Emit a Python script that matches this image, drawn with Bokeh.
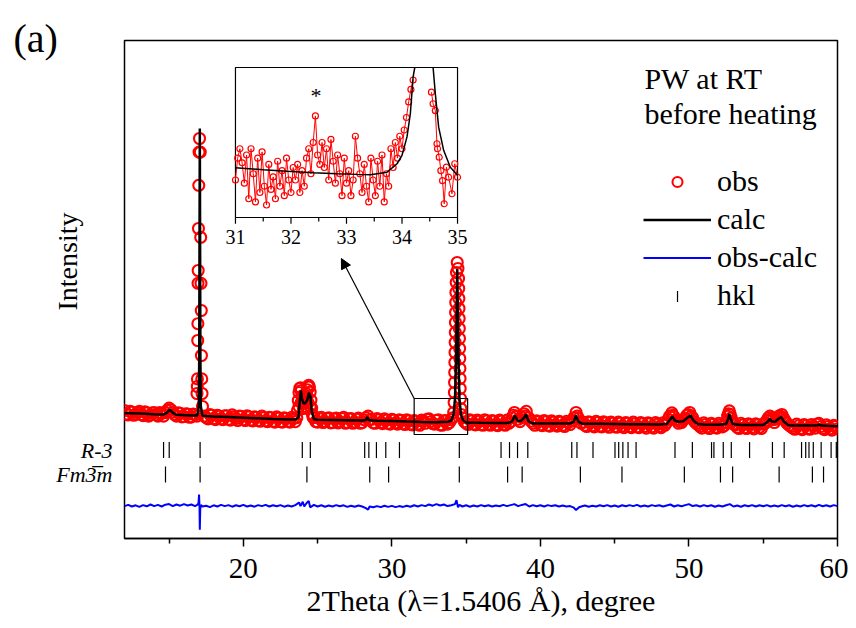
import math
from bokeh.plotting import figure
from bokeh.models import Range1d, FixedTicker, Label, Legend, LegendItem, Arrow, NormalHead
from bokeh.core.properties import value
from bokeh.embed import file_html
from bokeh.resources import INLINE

FONT = "Liberation Serif"
NAN = float("nan")

# ---------------- data ----------------
x_ticks = [20, 30, 40, 50, 60]
x_minor = [15, 25, 35, 45, 55]

# observed pattern (main panel)
obs_x = [12.0, 12.25, 12.5, 12.75, 13.0, 13.25, 13.5, 13.75, 14.0, 14.25, 14.5, 14.75, 15.0, 15.25, 15.5, 15.75, 16.0, 16.25, 16.5, 16.75,
         16.88, 16.9, 16.91, 16.93, 16.94, 16.95, 16.96, 16.98, 17.0, 17.02, 17.05, 17.1, 17.13, 17.15, 17.17, 17.18, 17.2, 17.22, 17.25,
         17.5, 17.75, 18.0, 18.25, 18.5, 18.75, 19.0, 19.25, 19.5, 19.75, 20.0, 20.25, 20.5, 20.75, 21.0, 21.25, 21.5, 21.75, 22.0, 22.25,
         22.5, 22.75, 23.0, 23.25, 23.5,
         23.6, 23.65, 23.7, 23.75, 23.8, 23.85, 23.9, 23.95, 24.0, 24.05, 24.1, 24.15, 24.2, 24.25, 24.3, 24.35, 24.4, 24.45, 24.5, 24.55,
         24.6, 24.65, 24.7, 23.75, 23.9, 24.05, 24.2, 24.35, 24.5,
         24.75, 25.0, 25.25, 25.5, 25.75, 26.0, 26.25, 26.5, 26.75, 27.0, 27.25, 27.5, 27.75, 28.0, 28.25, 28.4, 28.5, 28.75, 29.0, 29.25,
         29.5, 29.75, 30.0, 30.25, 30.5, 30.75, 31.0, 31.25, 31.5, 31.75, 32.0, 32.25, 32.5, 32.75, 33.0, 33.25, 33.5, 33.75, 34.0, 34.1,
         34.16, 34.19, 34.21, 34.22, 34.23, 34.24, 34.25, 34.26, 34.27, 34.28, 34.29, 34.3, 34.31, 34.33, 34.35, 34.4,
         34.45, 34.49, 34.5, 34.51, 34.52, 34.53, 34.54, 34.55, 34.56, 34.57, 34.58, 34.59, 34.6, 34.62, 34.64, 34.66,
         34.75, 35.0, 35.25, 35.5, 35.75, 36.0, 36.25, 36.5, 36.75, 37.0, 37.25, 37.5, 37.75, 38.0, 38.1, 38.25, 38.4, 38.5, 38.75, 38.9,
         39.05, 39.2, 39.5, 39.75, 40.0, 40.25, 40.5, 40.75, 41.0, 41.25, 41.5, 41.75, 42.0, 42.25, 42.4, 42.55, 42.75, 43.0, 43.25, 43.5,
         43.75, 44.0, 44.25, 44.5, 44.75, 45.0, 45.25, 45.5, 45.75, 46.0, 46.25, 46.5, 46.75, 47.0, 47.25, 47.5, 47.75, 48.0, 48.25, 48.5,
         48.7, 48.85, 49.0, 49.2, 49.4, 49.6, 49.85, 50.05, 50.25, 50.5, 50.75, 51.0, 51.25, 51.5, 51.75, 52.0, 52.25, 52.5, 52.6, 52.72,
         52.85, 53.0, 53.25, 53.5, 53.75, 54.0, 54.25, 54.5, 54.75, 55.0, 55.25, 55.45, 55.65, 55.85, 56.05, 56.25, 56.45, 56.75, 57.0,
         57.25, 57.5, 57.75, 58.0, 58.25, 58.5, 58.75, 59.0, 59.25, 59.5, 59.75, 60.0]
obs_y = [700, 590, 660, 610, 680, 570, 640, 590, 650, 560, 630, 650, 760, 660, 560, 630, 550, 610, 540, 600,
         1125, 1300, 1490, 2450, 2870, 3880, 4200, 5250, 6330, 7160, 7500, 7160, 5030, 3880, 3200, 2075, 1490, 1125, 800,
         520, 600, 500, 580, 490, 570, 480, 590, 500, 560, 470, 570, 460, 540, 450, 560, 440, 530, 430, 540,
         420, 520, 430, 530, 420,
         520, 700, 950, 1150, 1250, 1270, 1200, 1060, 960, 920, 930, 960, 1020, 1120, 1220, 1300, 1330, 1290, 1160, 960,
         760, 600, 520, 800, 900, 750, 800, 900, 800,
         560, 410, 530, 420, 520, 400, 510, 420, 530, 400, 500, 410, 510, 400, 520, 560, 470, 390, 500, 400,
         490, 380, 480, 390, 470, 370, 470, 360, 450, 360, 460, 380, 490, 370, 450, 340, 440, 360, 470, 520,
         650, 900, 1150, 1400, 1650, 1900, 2150, 2400, 2650, 2900, 3150, 3400, 3650, 3900, 4150, 4400,
         4250, 4000, 3750, 3500, 3250, 3000, 2750, 2500, 2250, 2000, 1750, 1500, 1250, 1000, 750, 600,
         520, 380, 470, 360, 460, 350, 470, 360, 450, 340, 460, 350, 460, 420, 520, 650, 560, 480, 520, 620,
         680, 520, 380, 440, 340, 450, 330, 440, 340, 430, 330, 430, 350, 520, 650, 500, 380, 330, 420, 320,
         430, 310, 420, 320, 410, 300, 410, 310, 400, 300, 410, 290, 400, 300, 390, 290, 400, 300, 390, 400,
         560, 640, 540, 460, 420, 470, 580, 650, 520, 380, 300, 390, 290, 380, 280, 380, 290, 400, 560, 690,
         520, 360, 280, 380, 270, 370, 280, 370, 280, 360, 460, 560, 470, 480, 560, 600, 460, 330, 260,
         360, 250, 350, 250, 350, 260, 380, 250, 340, 240, 330, 240]

# second interleaved set of observed points (between the ones above)
obs2_x = [12.125, 12.375, 12.625, 12.875, 13.125, 13.375, 13.625, 13.875, 14.125, 14.375, 14.625, 14.875, 15.125, 15.375,
          15.625, 15.875, 16.125, 16.375, 16.625, 16.875, 17.375, 17.625, 17.875, 18.125, 18.375, 18.625, 18.875, 19.125,
          19.375, 19.625, 19.875, 20.125, 20.375, 20.625, 20.875, 21.125, 21.375, 21.625, 21.875, 22.125, 22.375, 22.625,
          22.875, 23.125, 23.375, 24.875, 25.125, 25.375, 25.625, 25.875, 26.125, 26.375, 26.625, 26.875, 27.125, 27.375,
          27.625, 27.875, 28.125, 28.625, 28.875, 29.125, 29.375, 29.625, 29.875, 30.125, 30.375, 30.625, 30.875, 31.125,
          31.375, 31.625, 31.875, 32.125, 32.375, 32.625, 32.875, 33.125, 33.375, 33.625, 33.875, 34.875, 35.125, 35.375,
          35.625, 35.875, 36.125, 36.375, 36.625, 36.875, 37.125, 37.375, 37.625, 37.875, 38.175, 38.625, 38.975, 39.375,
          39.625, 39.875, 40.125, 40.375, 40.625, 40.875, 41.125, 41.375, 41.625, 41.875, 42.125, 42.475, 42.875, 43.125,
          43.375, 43.625, 43.875, 44.125, 44.375, 44.625, 44.875, 45.125, 45.375, 45.625, 45.875, 46.125, 46.375, 46.625,
          46.875, 47.125, 47.375, 47.625, 47.875, 48.125, 48.375, 48.6, 48.925, 49.1, 49.3, 49.5, 49.75, 49.95, 50.15,
          50.375, 50.625, 50.875, 51.125, 51.375, 51.625, 51.875, 52.125, 52.375, 52.66, 52.775, 52.925, 53.125, 53.375,
          53.625, 53.875, 54.125, 54.375, 54.625, 54.875, 55.125, 55.35, 55.55, 55.75, 55.95, 56.15, 56.35, 56.6, 56.875,
          57.125, 57.375, 57.625, 57.875, 58.125, 58.375, 58.625, 58.875, 59.125, 59.375, 59.625, 59.875]
obs2_y = [610, 680, 580, 650, 600, 670, 560, 640, 590, 650, 560, 700, 720, 600,
          640, 540, 620, 530, 610, 560, 560, 490, 580, 470, 560, 470, 570, 460,
          540, 450, 550, 450, 540, 440, 530, 430, 520, 420, 520, 410, 510, 410,
          500, 410, 500, 420, 500, 400, 500, 390, 490, 390, 500, 380, 490, 380,
          480, 380, 470, 480, 380, 470, 370, 460, 360, 460, 360, 450, 350, 440,
          340, 430, 330, 440, 480, 420, 360, 470, 330, 450, 400, 420, 350, 440,
          340, 430, 330, 440, 330, 430, 320, 430, 330, 380, 580, 420, 560, 430,
          330, 420, 320, 420, 310, 410, 310, 410, 300, 400, 440, 560, 410, 300,
          400, 290, 400, 290, 390, 280, 380, 280, 380, 270, 380, 270, 370, 270,
          370, 260, 370, 260, 360, 270, 330, 480, 580, 470, 380, 400, 500, 600, 560,
          420, 340, 260, 350, 250, 350, 260, 340, 320, 620, 600, 420, 340, 250,
          340, 250, 340, 240, 340, 250, 380, 520, 500, 400, 520, 560, 520, 380, 300,
          230, 320, 220, 320, 230, 310, 360, 300, 220, 300, 210, 300]

# calculated profile
calc_x = [12.0, 13.0, 14.0, 14.6, 14.85, 15.05, 15.25, 15.5, 16.5, 16.9, 17.0, 17.03, 17.05, 17.07, 17.09, 17.11, 17.14, 17.25,
          18.0, 19.0, 20.0, 21.0, 22.0, 23.0, 23.5, 23.7, 23.8, 23.87, 23.95, 24.05, 24.15, 24.3, 24.42, 24.52, 24.6, 24.75,
          25.0, 26.0, 27.0, 28.0, 28.25, 28.35, 28.45, 28.7, 29.0, 30.0, 31.0, 32.0, 33.0, 33.8, 34.0, 34.15, 34.25, 34.32,
          34.37, 34.4, 34.43, 34.48, 34.55, 34.65, 34.8, 35.0, 36.0, 37.0, 37.8, 38.1, 38.28, 38.45, 38.7, 38.9, 39.04, 39.2,
          39.5, 40.0, 41.0, 42.0, 42.25, 42.4, 42.55, 42.8, 44.0, 45.0, 46.0, 47.0, 48.0, 48.5, 48.75, 48.88, 49.05, 49.3,
          49.6, 49.9, 50.1, 50.3, 50.6, 51.0, 52.0, 52.5, 52.65, 52.72, 52.8, 52.95, 53.5, 54.0, 55.0, 55.3, 55.45, 55.6,
          55.8, 56.05, 56.2, 56.4, 56.7, 57.0, 58.0, 58.6, 58.75, 58.9, 59.5, 60.0]
calc_y = [640, 625, 605, 598, 640, 725, 640, 592, 572, 575, 800, 2000, 5000, 7750, 5000, 2000, 800, 570,
          548, 535, 520, 505, 490, 478, 475, 520, 900, 1200, 1000, 880, 875, 960, 1140, 1050, 700, 480,
          467, 462, 457, 452, 460, 533, 460, 450, 445, 438, 425, 415, 408, 420, 450, 600, 1000, 2000,
          3500, 4240, 3500, 2000, 1000, 600, 450, 400, 392, 388, 385, 430, 575, 450, 440, 520, 600, 430,
          378, 376, 372, 372, 420, 575, 420, 370, 366, 362, 358, 355, 352, 365, 480, 550, 450, 420,
          430, 520, 575, 450, 360, 350, 345, 360, 500, 617, 500, 360, 340, 338, 338, 420, 490, 420,
          420, 500, 533, 420, 330, 325, 322, 322, 345, 322, 315, 305]

# difference curve (offset below the pattern)
diff_x = [12.0, 12.25, 12.5, 12.75, 13.0, 13.25, 13.5, 13.75, 14.0, 14.25, 14.5, 14.75, 15.0, 15.25, 15.5, 15.75, 16.0, 16.25,
          16.5, 16.75, 16.9, 16.98, 17.02, 17.05, 17.07, 17.1, 17.15, 17.25, 17.5, 17.75, 18.0, 18.25, 18.5, 18.75, 19.0, 19.25,
          19.5, 19.75, 20.0, 20.25, 20.5, 20.75, 21.0, 21.25, 21.5, 21.75, 22.0, 22.25, 22.5, 22.75, 23.0, 23.25, 23.5, 23.75,
          23.85, 24.0, 24.1, 24.25, 24.4, 24.5, 24.75, 25.0, 25.25, 25.5, 25.75, 26.0, 26.25, 26.5, 26.75, 27.0, 27.25, 27.5,
          27.75, 28.0, 28.25, 28.4, 28.5, 28.75, 29.0, 29.25, 29.5, 29.75, 30.0, 30.25, 30.5, 30.75, 31.0, 31.25, 31.5, 31.75,
          32.0, 32.25, 32.5, 32.75, 33.0, 33.25, 33.5, 33.75, 34.0, 34.25, 34.35, 34.45, 34.55, 34.75, 35.0, 35.25, 35.5, 35.75,
          36.0, 36.25, 36.5, 36.75, 37.0, 37.25, 37.5, 37.75, 38.0, 38.25, 38.5, 38.75, 39.0, 39.25, 39.5, 39.75, 40.0, 40.25,
          40.5, 40.75, 41.0, 41.25, 41.5, 41.75, 42.0, 42.25, 42.4, 42.6, 42.75, 43.0, 43.25, 43.5, 43.75, 44.0, 44.25, 44.5,
          44.75, 45.0, 45.25, 45.5, 45.75, 46.0, 46.25, 46.5, 46.75, 47.0, 47.25, 47.5, 47.75, 48.0, 48.25, 48.5, 48.75, 49.0,
          49.25, 49.5, 49.75, 50.0, 50.25, 50.5, 50.75, 51.0, 51.25, 51.5, 51.75, 52.0, 52.25, 52.5, 52.75, 53.0, 53.25, 53.5,
          53.75, 54.0, 54.25, 54.5, 54.75, 55.0, 55.25, 55.5, 55.75, 56.0, 56.25, 56.5, 56.75, 57.0, 57.25, 57.5, 57.75, 58.0,
          58.25, 58.5, 58.75, 59.0, 59.25, 59.5, 59.75, 60.0]
diff_y = [-1690, -1660, -1700, -1670, -1710, -1665, -1695, -1650, -1690, -1660, -1700, -1655, -1640, -1690, -1650, -1680, -1640, -1675,
          -1650, -1690, -1660, -1620, -1400, -1720, -2280, -1760, -1660, -1700, -1680, -1715, -1670, -1700, -1660, -1690, -1665, -1705,
          -1670, -1695, -1660, -1700, -1675, -1705, -1665, -1690, -1660, -1700, -1670, -1695, -1665, -1705, -1675, -1700, -1665, -1600,
          -1690, -1580, -1700, -1620, -1560, -1720, -1660, -1700, -1670, -1705, -1675, -1700, -1665, -1695, -1670, -1710, -1680, -1705,
          -1675, -1700, -1740, -1780, -1700, -1720, -1690, -1715, -1680, -1710, -1685, -1715, -1690, -1710, -1680, -1705, -1670, -1700,
          -1665, -1690, -1650, -1680, -1640, -1675, -1650, -1690, -1670, -1640, -1540, -1720, -1660, -1700, -1670, -1705, -1675, -1700,
          -1665, -1695, -1670, -1700, -1675, -1695, -1660, -1690, -1665, -1640, -1690, -1660, -1640, -1700, -1665, -1695, -1670, -1700,
          -1665, -1690, -1670, -1700, -1675, -1700, -1690, -1730, -1790, -1720, -1700, -1675, -1705, -1680, -1700, -1670, -1695, -1665,
          -1700, -1675, -1705, -1670, -1695, -1665, -1690, -1660, -1700, -1675, -1700, -1665, -1690, -1670, -1700, -1675, -1650, -1700,
          -1670, -1695, -1665, -1640, -1690, -1670, -1700, -1665, -1695, -1670, -1705, -1675, -1700, -1670, -1640, -1700, -1675, -1705,
          -1670, -1695, -1665, -1700, -1670, -1695, -1665, -1700, -1675, -1700, -1665, -1695, -1670, -1705, -1675, -1700, -1665, -1695,
          -1670, -1700, -1660, -1695, -1670, -1700, -1665, -1690]

# Bragg reflection positions
hkl_r3 = [14.63, 15.01, 17.09, 23.97, 24.51, 28.17, 28.45, 28.96, 29.59, 30.51, 34.54, 37.35, 37.92, 38.46, 39.15, 42.11, 42.46,
          43.54, 45.02, 45.27, 45.55, 45.90, 46.44, 49.06, 50.23, 51.52, 51.68, 52.31, 52.85, 54.08, 55.62, 56.41, 57.58, 57.86,
          58.08, 58.37, 58.90, 59.57, 59.92]
hkl_fm3m = [14.76, 17.09, 24.28, 28.51, 29.78, 34.54, 37.79, 38.77, 42.69, 45.49, 49.69, 52.12, 52.94, 56.07, 58.31, 59.06]
R3_LEVEL = -290
FM_LEVEL = -900
phase_labels = {R3_LEVEL: "R-3", FM_LEVEL: "Fm3\u0305m"}

# inset (zoom of 31-35 degrees)
ins_obs_x = [31.00, 31.04, 31.08, 31.12, 31.16, 31.20, 31.24, 31.28, 31.32, 31.36, 31.40, 31.44, 31.48, 31.52, 31.56, 31.60,
             31.64, 31.68, 31.72, 31.76, 31.80, 31.84, 31.88, 31.92, 31.96, 32.00, 32.04, 32.08, 32.12, 32.16, 32.20, 32.24,
             32.28, 32.32, 32.36, 32.40, 32.44, 32.48, 32.52, 32.56, 32.60, 32.64, 32.68, 32.72, 32.76, 32.80, 32.84, 32.88,
             32.92, 32.96, 33.00, 33.04, 33.08, 33.12, 33.16, 33.20, 33.24, 33.28, 33.32, 33.36, 33.40, 33.44, 33.48, 33.52,
             33.56, 33.60, 33.64, 33.68, 33.72, 33.76, 33.80, 33.84, 33.88, 33.92, 33.96, 34.00, 34.04, 34.08, 34.12, 34.16,
             34.20, NAN, 34.53, 34.56, 34.60, 34.63, 34.64, 34.67, 34.70, 34.73, 34.76, 34.80, 34.84, 34.90, 34.95, 35.00]
ins_obs_y = [400, 470, 500, 455, 390, 480, 340, 500, 420, 330, 470, 360, 490, 380, 320, 450,
             370, 410, 340, 460, 380, 430, 350, 470, 400, 360, 440, 400, 450, 360, 430, 380,
             470, 500, 420, 520, 605, 480, 450, 520, 440, 500, 400, 530, 460, 390, 480, 420,
             350, 470, 390, 430, 350, 400, 540, 470, 420, 360, 450, 380, 330, 470, 400, 350,
             460, 380, 480, 330, 420, 380, 500, 440, 520, 470, 540, 500, 560, 600, 650, 690,
             720, NAN, 681, 644, 622, 516, 500, 473, 430, 398, 324, 441, 409, 356, 452, 409]
ins_calc_x = [31.0, 31.5, 31.93, 32.4, 32.83, 33.2, 33.43, 33.73, 33.91, 34.0, 34.09, 34.15, 34.2, 34.23, NAN,
              34.56, 34.6, 34.66, 34.75, 34.87, 35.0]
ins_calc_y = [439, 433, 428, 423, 420, 418, 417, 425, 452, 479, 538, 612, 730, 760, NAN,
              760, 676, 569, 495, 441, 415]
ins_ticks = [31, 32, 33, 34, 35]
ins_minor = [31.5, 32.5, 33.5, 34.5]
INS_X = (31, 35)
INS_Y = (280, 760)

# legend key position for the hkl entry (legend layout, not data)
HKL_KEY = (49.23, 3550)

# ---------------- figure ----------------
p = figure(width=848, height=627, output_backend="svg", toolbar_location=None,
           x_range=Range1d(12, 60), y_range=Range1d(-2500, 9950),
           min_border_left=124, min_border_right=11, min_border_top=40, min_border_bottom=89)
p.background_fill_color = "white"
p.border_fill_color = "white"
p.outline_line_color = "black"
p.outline_line_width = 1.5
p.xgrid.visible = False
p.ygrid.visible = False

# panel tag "(a)"
p.title.text = "(a)"
p.title.text_font = FONT
p.title.text_font_size = "40px"
p.title.text_font_style = "normal"
p.title.text_color = "black"
p.title.align = "left"
p.title.offset = -111
p.title.standoff = -40
p.title.text_line_height = 1.5

ax = p.xaxis[0]
ax.ticker = FixedTicker(ticks=x_ticks, minor_ticks=x_minor)
ax.axis_line_color = "black"
ax.axis_line_width = 1.5
ax.major_tick_in = 0
ax.major_tick_out = 8
ax.minor_tick_in = 0
ax.minor_tick_out = 5
ax.major_tick_line_color = "black"
ax.major_tick_line_width = 1.5
ax.minor_tick_line_color = "black"
ax.minor_tick_line_width = 1.5
ax.major_label_text_font = FONT
ax.major_label_text_font_size = "29px"
ax.major_label_text_color = "black"
ax.major_label_standoff = 12
ax.axis_label = "2Theta (\u03bb=1.5406 \u00c5), degree"
ax.axis_label_text_font = FONT
ax.axis_label_text_font_size = "30px"
ax.axis_label_text_font_style = "normal"
ax.axis_label_text_color = "black"
ax.axis_label_standoff = 3

ay = p.yaxis[0]
ay.ticker = FixedTicker(ticks=[FM_LEVEL, R3_LEVEL], minor_ticks=[])
ay.major_label_overrides = phase_labels
ay.axis_line_color = None
ay.major_tick_in = 0
ay.major_tick_out = 0
ay.minor_tick_in = 0
ay.minor_tick_out = 0
ay.major_label_text_font = FONT
ay.major_label_text_font_size = "22px"
ay.major_label_text_font_style = "italic"
ay.major_label_text_color = "black"
ay.major_label_standoff = 12
ay.axis_label = "\u00a0" * 8 + "Intensity"
ay.axis_label_text_font = FONT
ay.axis_label_text_font_size = "28px"
ay.axis_label_text_font_style = "normal"
ay.axis_label_text_color = "black"
ay.axis_label_standoff = -30

# main pattern
r_obs = p.scatter(obs_x + obs2_x, obs_y + obs2_y, marker="circle", size=11, fill_color=None,
                  line_color="#ff0000", line_width=2.1)
r_calc = p.line(calc_x, calc_y, line_color="black", line_width=2.5)
r_diff = p.line(diff_x, diff_y, line_color="#0000ff", line_width=2)
p.scatter(hkl_r3, [R3_LEVEL] * len(hkl_r3), marker="dash", angle=math.pi / 2, size=16,
          line_color="black", line_width=1.2)
p.scatter(hkl_fm3m, [FM_LEVEL] * len(hkl_fm3m), marker="dash", angle=math.pi / 2, size=16,
          line_color="black", line_width=1.2)
r_hkl_key = p.scatter([NAN], [NAN], marker="dash", size=1, line_alpha=0, fill_alpha=0)
# vertical hkl key drawn in the legend row (Bokeh's legend draws dashes horizontally)
p.scatter([HKL_KEY[0]], [HKL_KEY[1]], marker="dash", angle=math.pi / 2, size=11,
          line_color="black", line_width=1.2)

# zoom box and arrow
p.quad(left=[31.5], right=[35.1], bottom=[100], top=[1000], fill_color=None, line_color="black", line_width=1.2)
p.add_layout(Arrow(x_start=31.5, y_start=1000, x_end=26.6, y_end=4500, line_width=1.2, line_color="black",
                   end=NormalHead(size=10, fill_color="black", line_color="black")))

# inset
ins = p.subplot(x_source=Range1d(*INS_X), y_source=Range1d(*INS_Y),
                x_target=Range1d(19.47, 34.42), y_target=Range1d(5525, 9275))
ins.quad(left=[INS_X[0]], right=[INS_X[1]], bottom=[INS_Y[0]], top=[INS_Y[1]],
         fill_color="white", line_color="black", line_width=1.2)
ins.line(ins_obs_x, ins_obs_y, line_color="#ff0000", line_width=1)
ins.scatter(ins_obs_x, ins_obs_y, marker="circle", size=6, fill_color=None, line_color="#ff0000", line_width=1.2)
ins.line(ins_calc_x, ins_calc_y, line_color="black", line_width=1.5)
ins.segment(x0=ins_ticks, x1=ins_ticks, y0=[INS_Y[0]] * 5, y1=[INS_Y[0] - 20] * 5, line_color="black", line_width=1.2)
ins.segment(x0=ins_minor, x1=ins_minor, y0=[INS_Y[0]] * 4, y1=[INS_Y[0] - 13] * 4, line_color="black", line_width=1.2)
ins.text(x=ins_ticks, y=[INS_Y[0] - 62] * 5, text=[str(t) for t in ins_ticks], text_align="center",
         text_baseline="middle", text_font=value(FONT), text_font_size="20px", text_color="black")
ins.text(x=[32.45], y=[672], text=["*"], text_align="center", text_baseline="middle",
         text_font=value(FONT), text_font_size="22px", text_color="black")

# legend
leg = Legend(items=[LegendItem(label="obs", renderers=[r_obs]),
                    LegendItem(label="calc", renderers=[r_calc]),
                    LegendItem(label="obs-calc", renderers=[r_diff]),
                    LegendItem(label="hkl", renderers=[r_hkl_key])],
             location=(519, 226), padding=0, margin=0, spacing=4, glyph_width=68, glyph_height=25,
             label_height=33, label_standoff=6, label_text_font=FONT, label_text_font_size="30px",
             label_text_color="black", border_line_color=None, background_fill_alpha=0)
p.add_layout(leg)

def lab(x, y, text, size, align="left", baseline="alphabetic"):
    p.add_layout(Label(x=x, y=y, text=text, text_font=FONT, text_font_size=size, text_align=align,
                       text_baseline=baseline, text_color="black"))

lab(47.0, 9000, "PW at RT", "30px")
lab(47.0, 8125, "before heating", "30px")

open("out.html", "w").write(file_html(p, INLINE))
